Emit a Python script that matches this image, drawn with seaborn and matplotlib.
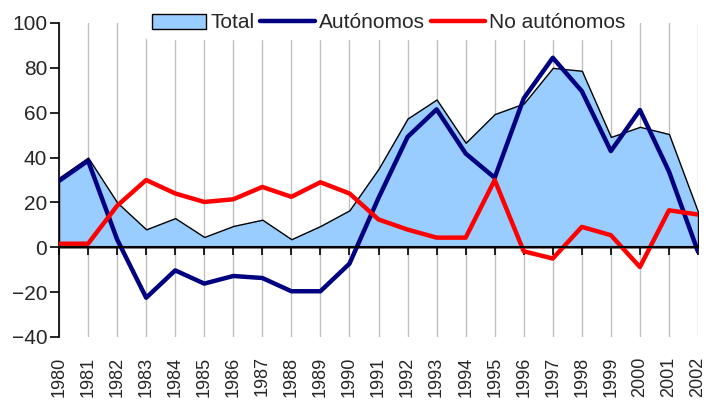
import pandas as pd
import matplotlib
matplotlib.use("Agg")
import matplotlib.pyplot as plt
import seaborn as sns

years = list(range(1980, 2003))
total = [31, 40, 20, 8, 13, 4.6, 9.5, 12.3, 3.6, 9.5, 16.5, 35, 57.4, 65.9, 46.6,
         59.4, 64.1, 80, 78.7, 49.2, 53.7, 50.5, 15.8]
autonomos = [29.6, 38.6, 3.5, -22.5, -10.3, -16.2, -12.8, -13.7, -19.6, -19.6, -7.3,
             22, 49.2, 61.5, 41.8, 31, 66.4, 84.5, 69.6, 42.9, 61.2, 33.8, -2]
no_autonomos = [1.6, 1.6, 18.5, 30, 24, 20.2, 21.4, 26.9, 22.5, 29, 24, 12.4, 7.9,
                4.3, 4.3, 30, -1.8, -5, 9.1, 5.4, -8.8, 16.5, 14.6]

df = pd.DataFrame({"year": years, "Total": total, "Autónomos": autonomos,
                   "No autónomos": no_autonomos})

sns.set_style("white")
plt.rcParams["font.family"] = ["Liberation Sans Narrow", "Liberation Sans", "DejaVu Sans"]

fig = plt.figure(figsize=(7.06, 4.0), dpi=100)
ax = fig.add_axes([0.0836, 0.1575, 0.9051, 0.785])

# area for the total, lines for the two groups
ax.fill_between(df["year"], 0, df["Total"], facecolor="#99ccff", edgecolor="black",
                linewidth=1, label="Total", zorder=2)
sns.lineplot(data=df, x="year", y="Autónomos", color="#000080", linewidth=3.2,
             label="Autónomos", ax=ax, zorder=3)
sns.lineplot(data=df, x="year", y="No autónomos", color="#ff0000", linewidth=3.2,
             label="No autónomos", ax=ax, zorder=4)

ax.set_xlim(years[0], years[-1])
ax.set_ylim(-40, 100)
ax.set_yticks(range(-40, 101, 20))
ax.set_xticks(years)
ax.grid(axis="x", color="#c0c0c0", linewidth=1, zorder=0)
ax.set_axisbelow(True)
ax.set_xlabel("")
ax.set_ylabel("")

for s in ["top", "right"]:
    ax.spines[s].set_visible(False)
ax.spines["left"].set_color("black")
ax.spines["left"].set_linewidth(1.2)
ax.spines["bottom"].set_position(("data", 0))
ax.spines["bottom"].set_color("black")
ax.spines["bottom"].set_linewidth(1.5)
ax.spines["bottom"].set_zorder(5)

ax.tick_params(axis="y", direction="out", length=6.5, width=1.2, color="black",
               left=True, labelsize=15, pad=2)
ax.tick_params(axis="x", direction="out", length=6, width=1.2, color="black",
               bottom=True, labelbottom=False)

# year labels sit below the plot, ticks stay on the zero line
sec = ax.secondary_xaxis("bottom")
sec.set_xticks(years)
sec.set_xticklabels([str(y) for y in years], rotation=90, fontsize=13)
sec.tick_params(length=0, pad=14)
sec.spines["bottom"].set_visible(False)

ax.legend(loc="center", bbox_to_anchor=(0.516, 1.0), ncol=3, fontsize=15,
          frameon=True, facecolor="white", edgecolor="white", framealpha=1,
          handlelength=2.6, handletextpad=0.2, columnspacing=0.3,
          borderpad=0.3, borderaxespad=0)

plt.savefig("out.png", dpi=100)
